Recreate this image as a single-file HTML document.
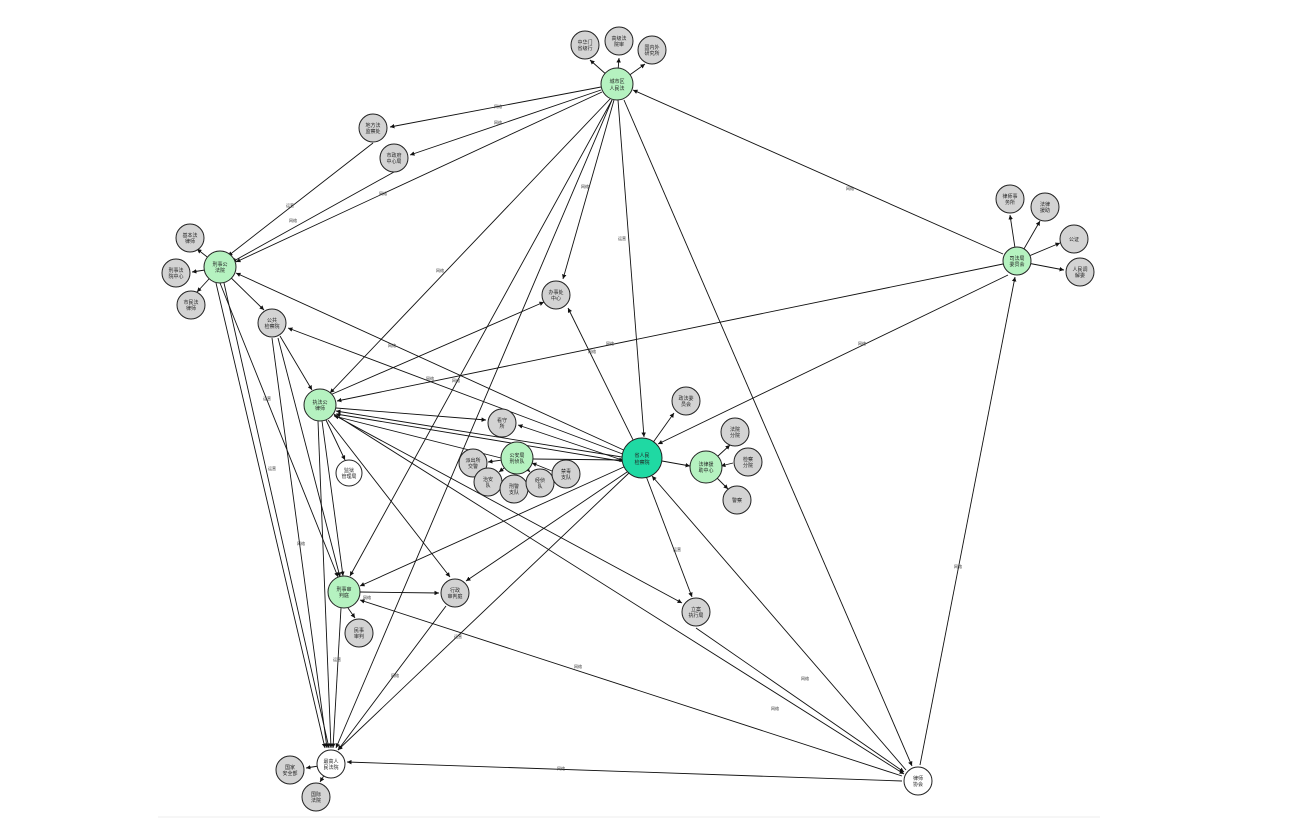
<!DOCTYPE html>
<html><head><meta charset="utf-8"><style>
html,body{margin:0;padding:0;background:#fff;}
svg{display:block;font-family:"Liberation Sans","Noto Sans CJK SC",sans-serif;}
.e{stroke:#111;stroke-width:0.9;fill:none;marker-end:url(#ar)}
.g{fill:#d3d3d3;stroke:#222;stroke-width:1}
.gr{fill:#b5f2c0;stroke:#222;stroke-width:1}
.w{fill:#fff;stroke:#222;stroke-width:1}
.t{font-size:5px;fill:#222;text-anchor:middle}
.l{font-size:4px;fill:#333;text-anchor:middle}
</style></head><body>
<svg width="1296" height="840" viewBox="0 0 1296 840">
<defs><marker id="ar" viewBox="0 0 10 10" refX="10" refY="5" markerWidth="5" markerHeight="5" orient="auto"><path d="M0,0L10,5L0,10z" fill="#111"/></marker></defs>
<line x1="158" y1="817" x2="1100" y2="817" stroke="#eee"/>
<g>
<line class="e" x1="617" y1="84" x2="590" y2="60"/>
<line class="e" x1="617" y1="84" x2="619" y2="58"/>
<line class="e" x1="617" y1="84" x2="645" y2="64"/>
<line class="e" x1="601" y1="87" x2="390" y2="127"/>
<line class="e" x1="601" y1="90" x2="410" y2="155"/>
<line class="e" x1="602" y1="92" x2="236" y2="262"/>
<line class="e" x1="373" y1="143" x2="228" y2="256"/>
<line class="e" x1="394" y1="172" x2="232" y2="262"/>
<line class="e" x1="610" y1="99" x2="330" y2="393"/>
<line class="e" x1="614" y1="100" x2="563" y2="279"/>
<line class="e" x1="618" y1="100" x2="644" y2="437"/>
<line class="e" x1="612" y1="100" x2="350" y2="576"/>
<line class="e" x1="612" y1="100" x2="336" y2="748"/>
<line class="e" x1="624" y1="100" x2="912" y2="766"/>
<line class="e" x1="1003" y1="254" x2="633" y2="90"/>
<line class="e" x1="1017" y1="261" x2="1010" y2="215"/>
<line class="e" x1="1017" y1="261" x2="1040" y2="221"/>
<line class="e" x1="1017" y1="261" x2="1060" y2="243"/>
<line class="e" x1="1017" y1="261" x2="1064" y2="270"/>
<line class="e" x1="1003" y1="264" x2="337" y2="401"/>
<line class="e" x1="1008" y1="275" x2="658" y2="444"/>
<line class="e" x1="920" y1="765" x2="1015" y2="277"/>
<line class="e" x1="220" y1="267" x2="197" y2="249"/>
<line class="e" x1="205" y1="270" x2="192" y2="272"/>
<line class="e" x1="220" y1="267" x2="197" y2="292"/>
<line class="e" x1="220" y1="267" x2="264" y2="310"/>
<line class="e" x1="628" y1="452" x2="236" y2="273"/>
<line class="e" x1="220" y1="283" x2="338" y2="577"/>
<line class="e" x1="216" y1="283" x2="325" y2="748"/>
<line class="e" x1="224" y1="283" x2="329" y2="748"/>
<line class="e" x1="272" y1="338" x2="327" y2="748"/>
<line class="e" x1="278" y1="338" x2="340" y2="577"/>
<line class="e" x1="280" y1="336" x2="312" y2="390"/>
<line class="e" x1="628" y1="456" x2="288" y2="328"/>
<line class="e" x1="330" y1="395" x2="544" y2="302"/>
<line class="e" x1="336" y1="408" x2="486" y2="420"/>
<line class="e" x1="628" y1="458" x2="336" y2="411"/>
<line class="e" x1="626" y1="462" x2="336" y2="414"/>
<line class="e" x1="501" y1="458" x2="334" y2="416"/>
<line class="e" x1="322" y1="421" x2="343" y2="576"/>
<line class="e" x1="326" y1="420" x2="345" y2="460"/>
<line class="e" x1="328" y1="420" x2="450" y2="577"/>
<line class="e" x1="334" y1="415" x2="682" y2="603"/>
<line class="e" x1="334" y1="414" x2="904" y2="774"/>
<line class="e" x1="318" y1="421" x2="331" y2="748"/>
<line class="e" x1="628" y1="462" x2="518" y2="425"/>
<line class="e" x1="533" y1="459" x2="624" y2="460"/>
<line class="e" x1="517" y1="458" x2="488" y2="462"/>
<line class="e" x1="517" y1="458" x2="499" y2="472"/>
<line class="e" x1="517" y1="458" x2="515" y2="474"/>
<line class="e" x1="517" y1="458" x2="530" y2="472"/>
<line class="e" x1="552" y1="471" x2="532" y2="463"/>
<line class="e" x1="642" y1="458" x2="674" y2="413"/>
<line class="e" x1="662" y1="461" x2="690" y2="466"/>
<line class="e" x1="706" y1="467" x2="730" y2="445"/>
<line class="e" x1="733" y1="463" x2="721" y2="466"/>
<line class="e" x1="706" y1="467" x2="728" y2="489"/>
<line class="e" x1="642" y1="458" x2="568" y2="308"/>
<line class="e" x1="626" y1="466" x2="360" y2="586"/>
<line class="e" x1="630" y1="472" x2="338" y2="750"/>
<line class="e" x1="630" y1="470" x2="466" y2="581"/>
<line class="e" x1="646" y1="476" x2="692" y2="597"/>
<line class="e" x1="906" y1="770" x2="652" y2="476"/>
<line class="e" x1="360" y1="592" x2="439" y2="593"/>
<line class="e" x1="348" y1="608" x2="355" y2="618"/>
<line class="e" x1="341" y1="608" x2="333" y2="748"/>
<line class="e" x1="902" y1="776" x2="360" y2="600"/>
<line class="e" x1="446" y1="606" x2="338" y2="750"/>
<line class="e" x1="902" y1="781" x2="347" y2="762"/>
<line class="e" x1="331" y1="764" x2="306" y2="768"/>
<line class="e" x1="331" y1="764" x2="320" y2="782"/>
<line class="e" x1="696" y1="628" x2="904" y2="772"/>
</g>
<g class="l">
<text x="498" y="108">网络</text><text x="498" y="124">网络</text><text x="290" y="207">运营</text><text x="293" y="222">网络</text><text x="383" y="195">网络</text>
<text x="440" y="272">网络</text><text x="585" y="188">网络</text><text x="622" y="240">运营</text><text x="850" y="190">网络</text>
<text x="610" y="345">网络</text><text x="862" y="345">网络</text><text x="392" y="347">网络</text><text x="430" y="380">网络</text><text x="456" y="382">网络</text>
<text x="592" y="353">网络</text><text x="677" y="551">运营</text><text x="578" y="668">网络</text><text x="958" y="568">网络</text>
<text x="805" y="680">网络</text><text x="775" y="710">网络</text><text x="561" y="770">网络</text><text x="395" y="677">网络</text><text x="458" y="638">运营</text>
<text x="367" y="599">网络</text><text x="337" y="661">运营</text><text x="267" y="400">运营</text><text x="272" y="470">运营</text><text x="301" y="545">网络</text>
</g>
<g>
<circle class="g" cx="585" cy="45" r="14"/><circle class="g" cx="619" cy="41" r="14"/><circle class="g" cx="652" cy="50" r="14"/>
<circle class="gr" cx="617" cy="84" r="16"/>
<circle class="g" cx="373" cy="128" r="14"/><circle class="g" cx="394" cy="158" r="14"/>
<circle class="gr" cx="220" cy="267" r="16"/>
<circle class="g" cx="190" cy="238" r="14"/><circle class="g" cx="176" cy="273" r="14"/><circle class="g" cx="191" cy="305" r="14"/>
<circle class="g" cx="272" cy="323" r="14"/>
<circle class="gr" cx="320" cy="405" r="16"/>
<circle class="g" cx="556" cy="295" r="14"/>
<circle class="gr" cx="1017" cy="261" r="14"/>
<circle class="g" cx="1010" cy="199" r="14"/><circle class="g" cx="1045" cy="207" r="14"/><circle class="g" cx="1074" cy="239" r="14"/><circle class="g" cx="1080" cy="272" r="14"/>
<circle cx="642" cy="458" r="20" fill="#1fd9a3" stroke="#222"/>
<circle class="g" cx="686" cy="401" r="14"/>
<circle class="gr" cx="706" cy="467" r="16"/>
<circle class="g" cx="735" cy="432" r="14"/><circle class="g" cx="748" cy="462" r="14"/><circle class="g" cx="737" cy="500" r="14"/>
<circle class="gr" cx="517" cy="458" r="16"/>
<circle class="g" cx="473" cy="463" r="14"/><circle class="g" cx="488" cy="482" r="14"/><circle class="g" cx="514" cy="489" r="14"/><circle class="g" cx="540" cy="483" r="14"/><circle class="g" cx="566" cy="474" r="14"/>
<circle class="g" cx="502" cy="423" r="14"/>
<circle class="w" cx="349" cy="473" r="13"/>
<circle class="gr" cx="344" cy="592" r="16"/>
<circle class="g" cx="359" cy="633" r="14"/>
<circle class="g" cx="455" cy="593" r="14"/>
<circle class="g" cx="696" cy="612" r="14"/>
<circle class="w" cx="331" cy="764" r="14"/>
<circle class="g" cx="290" cy="770" r="14"/><circle class="g" cx="316" cy="797" r="14"/>
<circle class="w" cx="918" cy="781" r="14"/>
</g>
<g class="t">
<text x="617" y="83">城市区</text><text x="617" y="90">人民法</text>
<text x="585" y="44">中华门</text><text x="585" y="50">省级行</text><text x="619" y="40">高级法</text><text x="619" y="46">院审</text><text x="652" y="49">国内外</text><text x="652" y="55">研究所</text>
<text x="373" y="127">地方法</text><text x="373" y="133">监察处</text><text x="394" y="157">市政府</text><text x="394" y="163">中心局</text>
<text x="220" y="266">刑事公</text><text x="220" y="272">法院</text>
<text x="190" y="237">基本法</text><text x="190" y="243">律师</text><text x="176" y="272">刑事法</text><text x="176" y="278">院中心</text><text x="191" y="304">市民法</text><text x="191" y="310">律师</text>
<text x="272" y="322">公共</text><text x="272" y="328">检察院</text>
<text x="320" y="404">执法公</text><text x="320" y="410">律师</text>
<text x="556" y="294">办事处</text><text x="556" y="300">中心</text>
<text x="1017" y="260">司法局</text><text x="1017" y="266">委员会</text>
<text x="1010" y="198">律师事</text><text x="1010" y="204">务所</text><text x="1045" y="206">法律</text><text x="1045" y="212">援助</text><text x="1074" y="241">公证</text><text x="1080" y="271">人民调</text><text x="1080" y="277">解委</text>
<text x="642" y="457">省人民</text><text x="642" y="464">检察院</text>
<text x="686" y="400">政法委</text><text x="686" y="406">员会</text>
<text x="706" y="466">法律援</text><text x="706" y="472">助中心</text>
<text x="735" y="431">法院</text><text x="735" y="437">分院</text><text x="748" y="461">检察</text><text x="748" y="467">分院</text><text x="737" y="502">警察</text>
<text x="517" y="457">公安局</text><text x="517" y="463">刑侦队</text>
<text x="473" y="462">派出所</text><text x="473" y="468">交警</text><text x="488" y="481">治安</text><text x="488" y="487">队</text><text x="514" y="488">刑警</text><text x="514" y="494">支队</text><text x="540" y="482">经侦</text><text x="540" y="488">队</text><text x="566" y="473">禁毒</text><text x="566" y="479">支队</text>
<text x="502" y="422">看守</text><text x="502" y="428">所</text>
<text x="349" y="472">监狱</text><text x="349" y="478">管理局</text>
<text x="344" y="591">刑事审</text><text x="344" y="597">判庭</text>
<text x="359" y="632">民事</text><text x="359" y="638">审判</text>
<text x="455" y="592">行政</text><text x="455" y="598">审判庭</text>
<text x="696" y="611">立案</text><text x="696" y="617">执行局</text>
<text x="331" y="763">最高人</text><text x="331" y="769">民法院</text>
<text x="290" y="769">国家</text><text x="290" y="775">安全部</text><text x="316" y="796">国际</text><text x="316" y="802">法院</text>
<text x="918" y="780">律师</text><text x="918" y="786">协会</text>
</g>
</svg>
</body></html>
